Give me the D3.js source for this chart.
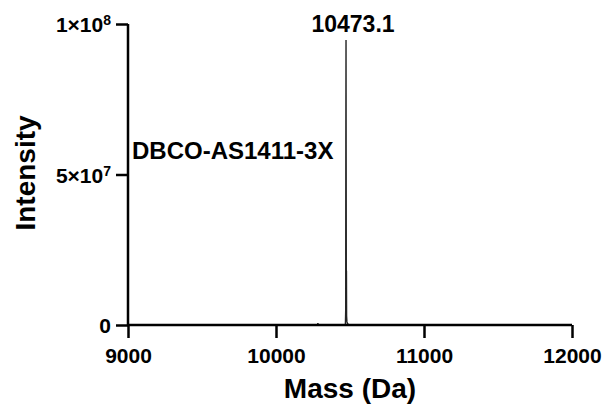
<!DOCTYPE html>
<html lang="en">
<head>
<meta charset="UTF-8">
<title>Mass spectrum</title>
<script src="https://d3js.org/d3.v7.min.js"></script>
<style>
  body { margin: 0; background: #fff; }
  svg text { font-family: "Liberation Sans", Arial, sans-serif; font-weight: bold; fill: #000; }
</style>
</head>
<body>
<svg id="chart" width="606" height="412"></svg>
<script>
// deconvoluted spectrum
var massDa = [9000, 10280, 10283, 10286, 10466, 10469, 10471, 10472, 10473.1, 10474, 10475, 10476, 10477, 10479, 10482, 10486, 10492, 12000];
var intensity = [0, 0, 0.006e8, 0, 0, 0.004e8, 0.05e8, 0.6e8, 0.947e8, 0.55e8, 0.12e8, 0.18e8, 0.03e8, 0.012e8, 0.006e8, 0.003e8, 0, 0];
var xTicks = [9000, 10000, 11000, 12000];
var yTicks = [0, 5e7, 1e8];
var yTickLabels = [["0", ""], ["5×10", "7"], ["1×10", "8"]];
var peakLabel = "10473.1";
var sampleName = "DBCO-AS1411-3X";

var svg = d3.select("#chart");
var margin = { left: 128, right: 34, top: 24, bottom: 87 };
var width = 606, height = 412;

var x = d3.scaleLinear().domain([9000, 12000]).range([margin.left, width - margin.right]);
var y = d3.scaleLinear().domain([0, 1e8]).range([height - margin.bottom, margin.top]);

// trace
var line = d3.line()
    .x(function (d, i) { return x(massDa[i]); })
    .y(function (d) { return y(d); });

svg.append("path")
    .datum(intensity)
    .attr("d", line)
    .attr("fill", "none")
    .attr("stroke", "#222")
    .attr("stroke-width", 1.4);

// x axis
var xAxis = svg.append("g")
    .attr("transform", "translate(0," + y(0) + ")")
    .call(d3.axisBottom(x).tickValues(xTicks).tickSize(13).tickSizeOuter(0).tickFormat(d3.format("d")));
xAxis.select(".domain").attr("stroke-width", 2.5).attr("d", "M" + (margin.left - 1) + ",0H" + x(12000));
xAxis.selectAll(".tick line").attr("stroke-width", 2.5);
xAxis.selectAll(".tick text").attr("font-size", 21).attr("dy", null).attr("y", 38);

// y axis
var yAxis = svg.append("g")
    .attr("transform", "translate(" + margin.left + ",0)")
    .call(d3.axisLeft(y).tickValues(yTicks).tickSize(12).tickSizeOuter(0).tickFormat(""));
yAxis.select(".domain").attr("stroke-width", 2.5).attr("d", "M0," + (y(0) + 1) + "V" + y(1e8));
yAxis.selectAll(".tick line").attr("stroke-width", 2.5);

yAxis.selectAll(".tick").each(function (d, i) {
    var t = d3.select(this).append("text")
        .attr("x", -17)
        .attr("dy", "0.36em")
        .attr("text-anchor", "end")
        .attr("font-size", 21);
    t.append("tspan").text(yTickLabels[i][0]);
    if (yTickLabels[i][1]) {
        t.append("tspan").attr("dy", "-0.5em").attr("font-size", 14).text(yTickLabels[i][1]);
    }
});

// axis titles
svg.append("text")
    .attr("x", x(10500))
    .attr("y", 398)
    .attr("text-anchor", "middle")
    .attr("font-size", 28)
    .text("Mass (Da)");

svg.append("text")
    .attr("transform", "translate(35,173) rotate(-90)")
    .attr("text-anchor", "middle")
    .attr("font-size", 28)
    .text("Intensity");

// annotations
svg.append("text")
    .attr("x", x(10473.1) + 7)
    .attr("y", 32)
    .attr("text-anchor", "middle")
    .attr("font-size", 23)
    .text(peakLabel);

svg.append("text")
    .attr("x", 132)
    .attr("y", 159)
    .attr("font-size", 24)
    .text(sampleName);
</script>
</body>
</html>
